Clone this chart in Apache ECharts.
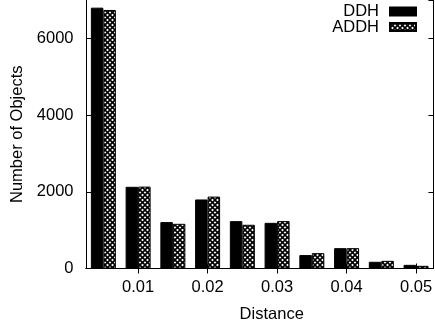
<!DOCTYPE html>
<html>
<head>
<meta charset="utf-8">
<script src="https://cdn.jsdelivr.net/npm/echarts@6/dist/echarts.min.js"></script>
<style>
  html, body { margin: 0; padding: 0; background: #fff; }
  #chart { width: 435px; height: 330px; }
</style>
</head>
<body>
<div id="chart"></div>
<script>
// ---- data ----
const categories = ['0.005', '0.01', '0.015', '0.02', '0.025', '0.03', '0.035', '0.04', '0.045', '0.05'];
const ddhValues  = [6800, 2130, 1210, 1800, 1235, 1190, 350, 530, 175, 95];
const addhValues = [6740, 2135, 1165, 1875, 1140, 1235, 400, 530, 200, 70];
const yTickLabels = [0, 2000, 4000, 6000];
const seriesNames = ['DDH', 'ADDH'];

// ---- crosshatch pattern ----
function makeHatch() {
  const s = 5;
  const c = document.createElement('canvas');
  c.width = s; c.height = s;
  const g = c.getContext('2d');
  g.fillStyle = '#fff';
  g.fillRect(0, 0, s, s);
  g.strokeStyle = '#000';
  g.lineWidth = 1.6;
  for (let k = -1; k <= 1; k++) {
    g.beginPath(); g.moveTo(k * s, 0); g.lineTo(k * s + s, s); g.stroke();
    g.beginPath(); g.moveTo(k * s, s); g.lineTo(k * s + s, 0); g.stroke();
  }
  return c;
}
const hatch = { image: makeHatch(), repeat: 'repeat' };

const FONT = 'Liberation Sans';
const FS = 16.5;
const showOdd = (i) => i % 2 === 1;

const chart = echarts.init(document.getElementById('chart'), null, { renderer: 'canvas' });

const legendCommon = {
  orient: 'vertical',
  right: 18,
  itemWidth: 26,
  itemHeight: 8,
  icon: 'rect',
  align: 'right',
  padding: 0,
  itemGap: 0,
  selectedMode: false,
  textStyle: { fontFamily: FONT, fontSize: FS, color: '#000', padding: [0, 6, 0, 0] }
};

chart.setOption({
  animation: false,
  backgroundColor: '#fff',
  textStyle: { fontFamily: FONT },
  grid: { left: 86, right: -1, top: 0, bottom: 61.5, containLabel: false },
  legend: [
    Object.assign({}, legendCommon, { data: [seriesNames[0]], top: 3 }),
    Object.assign({}, legendCommon, { data: [seriesNames[1]], top: 18.5 })
  ],
  xAxis: [
    {
      type: 'category',
      data: categories,
      position: 'bottom',
      boundaryGap: true,
      axisLine: { show: true, lineStyle: { color: '#000', width: 1 } },
      axisTick: { show: true, inside: true, length: 5, alignWithLabel: true, interval: showOdd, lineStyle: { color: '#000' } },
      axisLabel: { interval: showOdd, fontFamily: FONT, fontSize: FS, color: '#000', margin: 10 },
      splitLine: { show: false },
      name: 'Distance',
      nameLocation: 'middle',
      nameGap: 37,
      nameTextStyle: { fontFamily: FONT, fontSize: FS, color: '#000', padding: [0, 0, 0, 24] }
    },
    {
      type: 'category',
      data: categories,
      position: 'top',
      boundaryGap: true,
      axisLine: { show: true, lineStyle: { color: '#000', width: 1 } },
      axisTick: { show: true, inside: true, length: 5, alignWithLabel: true, interval: showOdd, lineStyle: { color: '#000' } },
      axisLabel: { show: false },
      splitLine: { show: false }
    }
  ],
  yAxis: [
    {
      type: 'value',
      position: 'left',
      min: 0,
      max: 7000,
      interval: 2000,
      axisLine: { show: true, lineStyle: { color: '#000', width: 1 } },
      axisTick: { show: true, inside: true, length: 5, lineStyle: { color: '#000' } },
      axisLabel: {
        fontFamily: FONT, fontSize: FS, color: '#000', margin: 12.5, showMaxLabel: false,
        formatter: (v) => (yTickLabels.indexOf(v) >= 0 ? String(v) : '')
      },
      splitLine: { show: false },
      name: 'Number of Objects',
      nameLocation: 'middle',
      nameGap: 57,
      nameTextStyle: { fontFamily: FONT, fontSize: FS, color: '#000' }
    },
    {
      type: 'value',
      position: 'right',
      min: 0,
      max: 7000,
      interval: 2000,
      axisLine: { show: true, lineStyle: { color: '#000', width: 1 } },
      axisTick: { show: true, inside: true, length: 5, lineStyle: { color: '#000' } },
      axisLabel: { show: false },
      splitLine: { show: false }
    }
  ],
  series: [
    {
      name: seriesNames[0],
      type: 'bar',
      xAxisIndex: 0,
      yAxisIndex: 0,
      data: ddhValues,
      barWidth: 12.5,
      barGap: '0%',
      itemStyle: { color: '#000', borderColor: '#000', borderWidth: 1 }
    },
    {
      name: seriesNames[1],
      type: 'bar',
      xAxisIndex: 0,
      yAxisIndex: 0,
      data: addhValues,
      barWidth: 12.5,
      barGap: '0%',
      itemStyle: { color: hatch, borderColor: '#000', borderWidth: 1 }
    }
  ]
});
</script>
</body>
</html>
